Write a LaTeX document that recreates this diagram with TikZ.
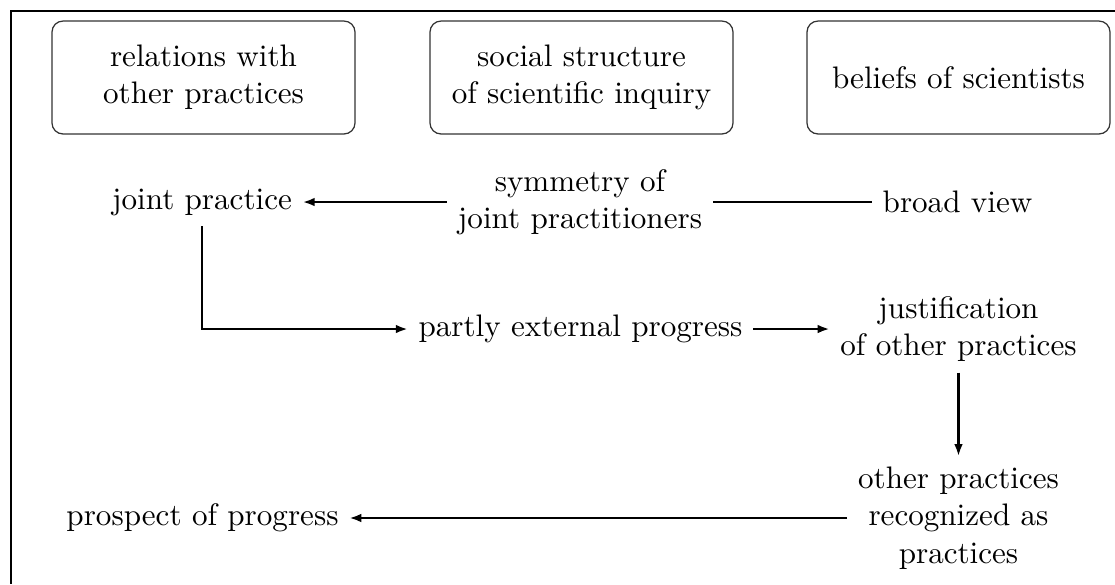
\documentclass[tikz,border=0pt]{standalone}
\usetikzlibrary{arrows.meta}
\begin{document}
\begin{tikzpicture}[x=0.3215pt,y=-0.3215pt,
  topbox/.style={draw=black!80,line width=0.4pt,rounded corners=3.5pt,minimum width=97.4pt,minimum height=36.3pt,align=center,inner sep=0pt},
  txt/.style={align=center},
  conn/.style={line width=0.7pt},
  arr/.style={conn,-{Latex[length=3.8pt,width=2.8pt]}},
  frameline/.style={line width=0.6pt}]
\useasboundingbox (0,0) rectangle (1115,584);
\coordinate (ftl) at (11,11);
\coordinate (ftr) at (1115,11);
\coordinate (fbl) at (11,584);
\draw[frameline] (ftr) -- (ftl) -- (fbl);
\node[topbox] (b1) at (203.5,77.5) {relations with\\other practices};
\node[topbox] (b2) at (581.5,77.5) {social structure\\of scientific inquiry};
\node[topbox] (b3) at (958.5,77.5) {beliefs of scientists};
\node[txt] (jp) at (202,202) {joint practice};
\node[txt] (sym) at (580,202) {symmetry of\\joint practitioners};
\node[txt] (bv) at (957.5,202) {broad view};
\node[txt] (pep) at (580.5,329) {partly external progress};
\node[txt] (just) at (958.5,329) {justification\\of other practices};
\node[txt] (opr) at (958.5,518) {other practices\\recognized as\\practices};
\node[txt] (pp) at (202.5,518) {prospect of progress};
\draw[arr] (sym) -- (jp);
\draw[conn] (sym) -- (bv);
\draw[arr] (jp.south) |- (pep.west);
\draw[arr] (pep) -- (just);
\draw[arr] (just) -- (opr);
\draw[arr] (opr) -- (pp);
\end{tikzpicture}
\end{document}
